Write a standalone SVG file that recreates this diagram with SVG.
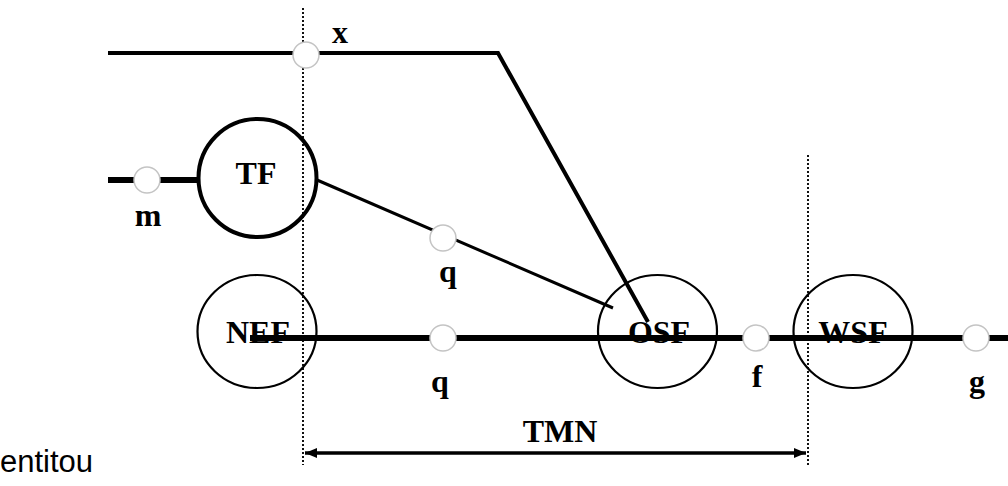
<svg xmlns="http://www.w3.org/2000/svg" width="1008" height="486" viewBox="0 0 1008 486">
<style>
.lbl{font-family:"Liberation Serif","Times New Roman",serif;font-weight:bold;font-size:32px;fill:#000;text-anchor:middle}
.big{fill:none;stroke:#000;stroke-width:2.2}
.bigb{fill:none;stroke:#000;stroke-width:4}
.pt{fill:#fff;stroke:#c4c4c4;stroke-width:1.5}
.dot{stroke:#111;stroke-width:2;stroke-dasharray:2 2;fill:none}
.ln{stroke:#000;fill:none}
</style>
<defs>
<marker id="ah" viewBox="0 0 12 10" refX="12" refY="5" markerWidth="12" markerHeight="10" markerUnits="userSpaceOnUse" orient="auto-start-reverse">
<path d="M0,0 L12,5 L0,10 Z" fill="#000"/>
</marker>
</defs>
<rect width="1008" height="486" fill="#fff"/>
<g id="boundaries">
<line class="dot" x1="303" y1="8" x2="303" y2="465"/>
<line class="dot" x1="808" y1="155" x2="808" y2="465"/>
</g>
<g id="node-NEF"><text class="lbl" x="258" y="343">NEF</text><ellipse class="big" cx="257" cy="331.5" rx="59.5" ry="56.5"/></g>
<g id="node-OSF"><text class="lbl" x="659" y="343">OSF</text><ellipse class="big" cx="657.5" cy="331.5" rx="59.5" ry="56.5"/></g>
<g id="node-WSF"><text class="lbl" x="853" y="343">WSF</text><ellipse class="big" cx="853" cy="331.5" rx="59.5" ry="56.5"/></g>
<g id="node-TF"><text class="lbl" x="256" y="184">TF</text><ellipse class="bigb" cx="257.5" cy="178" rx="59" ry="59"/></g>
<g id="connectors">
<polyline class="ln" stroke-width="4" points="108,53 498,53 648,322"/>
<line class="ln" stroke-width="6" x1="108" y1="180" x2="198" y2="180"/>
<line class="ln" stroke-width="3" x1="317" y1="180" x2="613" y2="308"/>
<line class="ln" stroke-width="6" x1="250" y1="338" x2="1008" y2="338"/>
<line class="ln" stroke-width="3.5" x1="305" y1="453" x2="806" y2="453" marker-start="url(#ah)" marker-end="url(#ah)"/>
</g>
<g id="ref-x"><circle class="pt" cx="306" cy="55" r="13"/><text class="lbl" x="340" y="43">x</text></g>
<g id="ref-m"><circle class="pt" cx="147" cy="180" r="13"/><text class="lbl" x="148" y="226">m</text></g>
<g id="ref-q1"><circle class="pt" cx="443" cy="238" r="13"/><text class="lbl" x="448" y="282">q</text></g>
<g id="ref-q2"><circle class="pt" cx="443" cy="338" r="13"/><text class="lbl" x="440" y="392">q</text></g>
<g id="ref-f"><circle class="pt" cx="756" cy="338" r="13"/><text class="lbl" x="757" y="387">f</text></g>
<g id="ref-g"><circle class="pt" cx="976" cy="338" r="13"/><text class="lbl" x="977" y="392">g</text></g>
<g id="label-TMN"><text class="lbl" x="560" y="442">TMN</text></g>
<text x="0" y="472" font-family="'Liberation Sans',Arial,sans-serif" font-size="31" fill="#000">entitou</text>
</svg>
